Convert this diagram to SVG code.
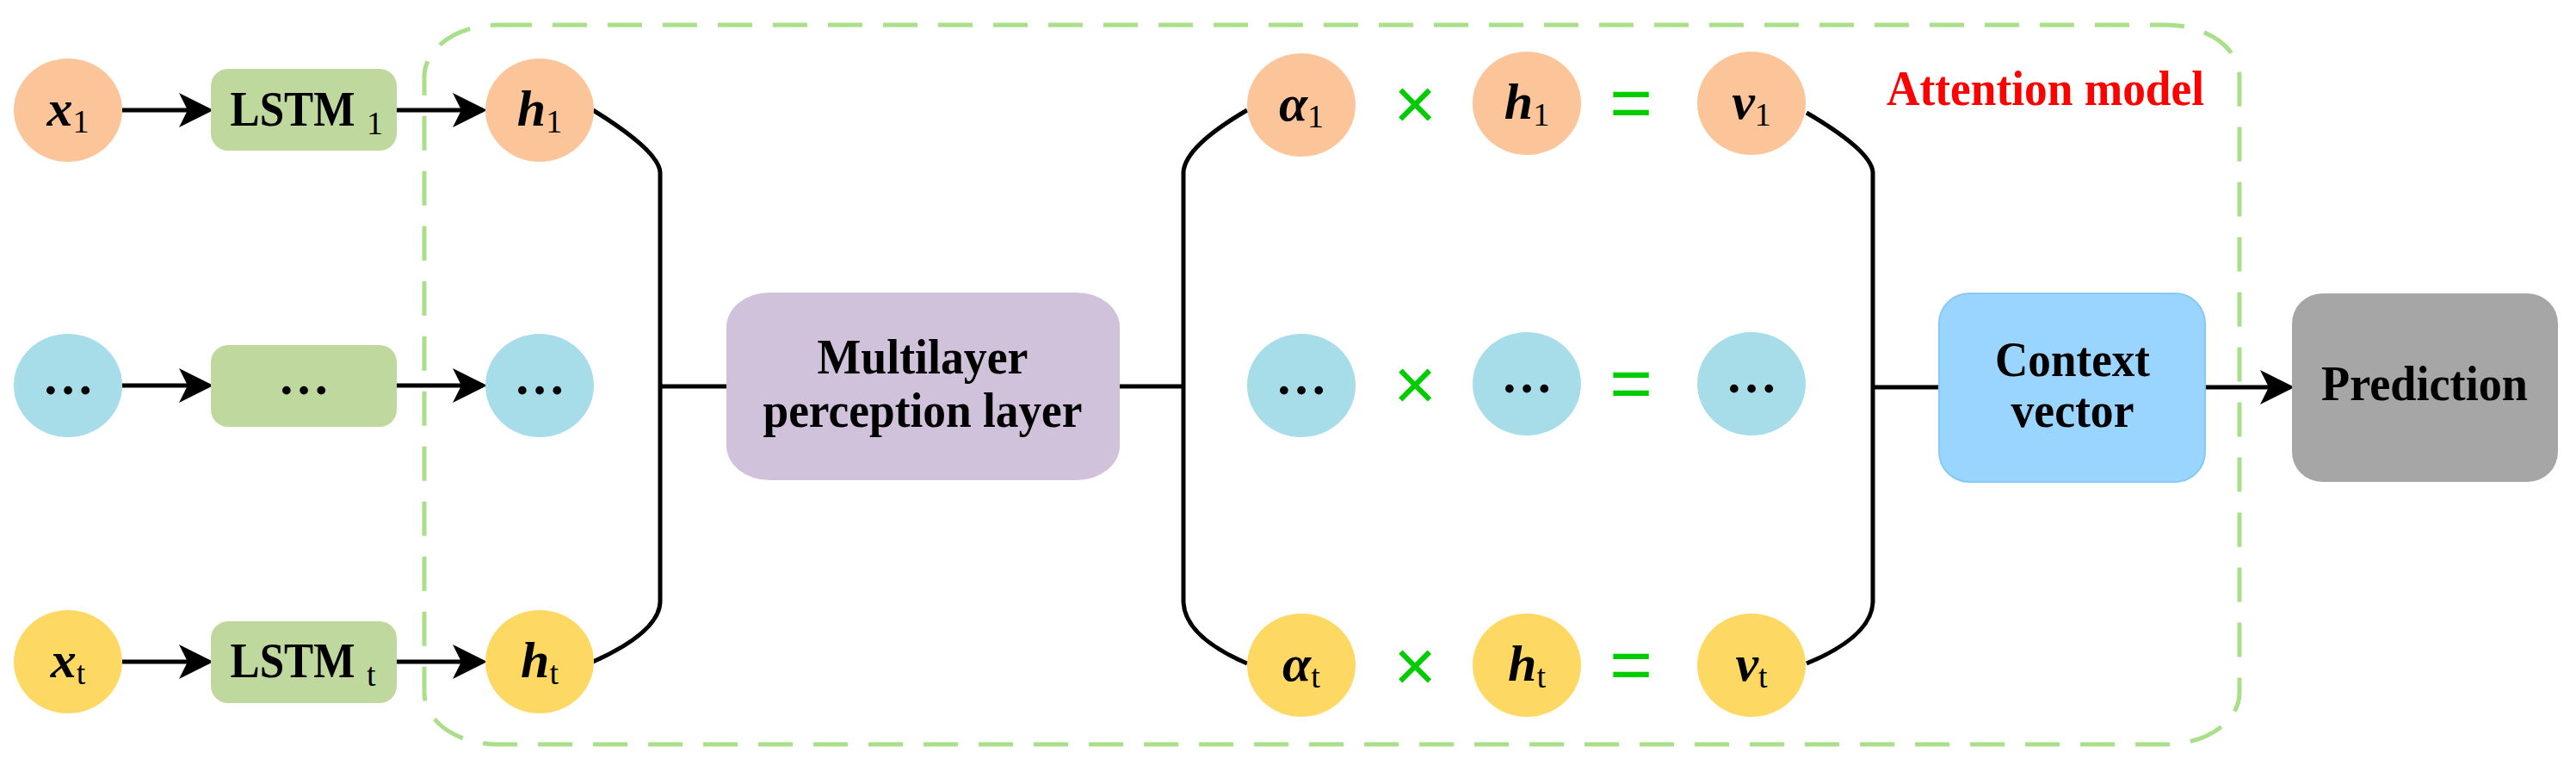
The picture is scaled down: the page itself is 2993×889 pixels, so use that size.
<svg xmlns="http://www.w3.org/2000/svg" width="2993" height="889" viewBox="0 0 2993 889">
<style>
.t{font-family:"Liberation Serif",serif;font-weight:bold;fill:#000}
.v{font-family:"Liberation Serif",serif;font-weight:bold;font-style:italic;font-size:60px;fill:#000}
.s{font-style:normal;font-weight:normal;font-size:38px}
.o{fill:#FBC599}.b{fill:#A6DDE8}.y{fill:#FDD963}
.op{font-family:"Liberation Sans",sans-serif;font-size:85px;fill:#00CC00;text-anchor:middle}
.ln{fill:none;stroke:#000;stroke-width:5}
</style>
<defs><marker id="ah" markerWidth="8" markerHeight="8" refX="7" refY="4" orient="auto" markerUnits="strokeWidth"><path d="M0,0 L8,4 L0,8 L2,4 Z" fill="#000"/></marker></defs>
<rect x="493" y="29" width="2109" height="836" rx="85" ry="60" fill="none" stroke="#A8DF88" stroke-width="5" stroke-dasharray="40,24"/>
<g id="connectors">
<path class="ln" d="M142,128 H243" marker-end="url(#ah)"/>
<path class="ln" d="M142,448 H243" marker-end="url(#ah)"/>
<path class="ln" d="M142,769 H243" marker-end="url(#ah)"/>
<path class="ln" d="M460,128 H561" marker-end="url(#ah)"/>
<path class="ln" d="M460,448 H561" marker-end="url(#ah)"/>
<path class="ln" d="M460,769 H561" marker-end="url(#ah)"/>
<path class="ln" d="M689,128 Q765,175 767,200 V700 Q765,735 689,769 M767,449 H844"/>
<path class="ln" d="M1301,449 H1375 M1449,128 Q1377,170 1375,200 V700 Q1377,740 1449,771"/>
<path class="ln" d="M2099,131 Q2174,175 2176,200 V700 Q2174,740 2099,771 M2176,450 H2253"/>
<path class="ln" d="M2562,450 H2661" marker-end="url(#ah)"/>
</g>
<g id="x1"><ellipse class="o" cx="79" cy="128" rx="63" ry="60"/><text class="v" x="79" y="146" text-anchor="middle">x<tspan class="s" dy="8">1</tspan></text></g>
<g id="xd"><ellipse class="b" cx="79" cy="448" rx="63" ry="60"/><text class="t" x="79" y="458" font-size="60" text-anchor="middle">…</text></g>
<g id="xt"><ellipse class="y" cx="79" cy="769" rx="63" ry="60"/><text class="v" x="79" y="787" text-anchor="middle">x<tspan class="s" dy="8">t</tspan></text></g>
<g id="lstm1"><rect x="245" y="80" width="216" height="95" rx="20" fill="#BFD89E"/><text class="t" x="340" y="146" font-size="58" text-anchor="middle" textLength="145" lengthAdjust="spacingAndGlyphs">LSTM</text><text class="t s" x="426" y="156">1</text></g>
<g id="lstmd"><rect x="245" y="401" width="216" height="95" rx="20" fill="#BFD89E"/><text class="t" x="353" y="458" font-size="60" text-anchor="middle">…</text></g>
<g id="lstmt"><rect x="245" y="722" width="216" height="95" rx="20" fill="#BFD89E"/><text class="t" x="340" y="787" font-size="58" text-anchor="middle" textLength="145" lengthAdjust="spacingAndGlyphs">LSTM</text><text class="t s" x="426" y="797">t</text></g>
<g id="h1"><ellipse class="o" cx="627" cy="128" rx="63" ry="60"/><text class="v" x="627" y="146" text-anchor="middle">h<tspan class="s" dy="8">1</tspan></text></g>
<g id="hd"><ellipse class="b" cx="627" cy="448" rx="63" ry="60"/><text class="t" x="627" y="458" font-size="60" text-anchor="middle">…</text></g>
<g id="ht"><ellipse class="y" cx="627" cy="769" rx="63" ry="60"/><text class="v" x="627" y="787" text-anchor="middle">h<tspan class="s" dy="8">t</tspan></text></g>
<g id="mlp"><rect x="844" y="340" width="457" height="218" rx="50" ry="40" fill="#D1C2DC"/>
<text class="t" x="1072" y="434" font-size="56" text-anchor="middle" textLength="245" lengthAdjust="spacingAndGlyphs">Multilayer</text>
<text class="t" x="1072" y="496" font-size="56" text-anchor="middle" textLength="371" lengthAdjust="spacingAndGlyphs">perception layer</text></g>
<g id="a1"><ellipse class="o" cx="1512" cy="122" rx="63" ry="60"/><text class="v" x="1512" y="140" text-anchor="middle">α<tspan class="s" dy="8">1</tspan></text></g>
<g id="ad"><ellipse class="b" cx="1512" cy="448" rx="63" ry="60"/><text class="t" x="1512" y="458" font-size="60" text-anchor="middle">…</text></g>
<g id="at"><ellipse class="y" cx="1512" cy="773" rx="63" ry="60"/><text class="v" x="1512" y="791" text-anchor="middle">α<tspan class="s" dy="8">t</tspan></text></g>
<g id="hh1"><ellipse class="o" cx="1774" cy="120" rx="63" ry="60"/><text class="v" x="1774" y="138" text-anchor="middle">h<tspan class="s" dy="8">1</tspan></text></g>
<g id="hhd"><ellipse class="b" cx="1774" cy="446" rx="63" ry="60"/><text class="t" x="1774" y="456" font-size="60" text-anchor="middle">…</text></g>
<g id="hht"><ellipse class="y" cx="1774" cy="773" rx="63" ry="60"/><text class="v" x="1774" y="791" text-anchor="middle">h<tspan class="s" dy="8">t</tspan></text></g>
<g id="v1"><ellipse class="o" cx="2035" cy="120" rx="63" ry="60"/><text class="v" x="2035" y="138" text-anchor="middle">v<tspan class="s" dy="8">1</tspan></text></g>
<g id="vd"><ellipse class="b" cx="2035" cy="446" rx="63" ry="60"/><text class="t" x="2035" y="456" font-size="60" text-anchor="middle">…</text></g>
<g id="vt"><ellipse class="y" cx="2035" cy="773" rx="63" ry="60"/><text class="v" x="2035" y="791" text-anchor="middle">v<tspan class="s" dy="8">t</tspan></text></g>
<g id="ops">
<text class="op" x="1644" y="150">×</text><text class="op" x="1644" y="476">×</text><text class="op" x="1644" y="803">×</text>
<text class="op" x="1895" y="148">=</text><text class="op" x="1895" y="474">=</text><text class="op" x="1895" y="801">=</text>
</g>
<text class="t" x="2192" y="122" font-size="56" style="fill:#FF0000" textLength="369" lengthAdjust="spacingAndGlyphs">Attention model</text>
<g id="context"><rect x="2253" y="341" width="309" height="219" rx="35" fill="#99D5FF" stroke="#86C9F5" stroke-width="2"/>
<text class="t" x="2408" y="437" font-size="56" text-anchor="middle" textLength="180" lengthAdjust="spacingAndGlyphs">Context</text>
<text class="t" x="2408" y="496" font-size="56" text-anchor="middle" textLength="143" lengthAdjust="spacingAndGlyphs">vector</text></g>
<g id="prediction"><rect x="2663" y="341" width="309" height="219" rx="35" fill="#A6A6A6"/>
<text class="t" x="2817" y="465" font-size="56" text-anchor="middle" textLength="240" lengthAdjust="spacingAndGlyphs">Prediction</text></g>
</svg>
